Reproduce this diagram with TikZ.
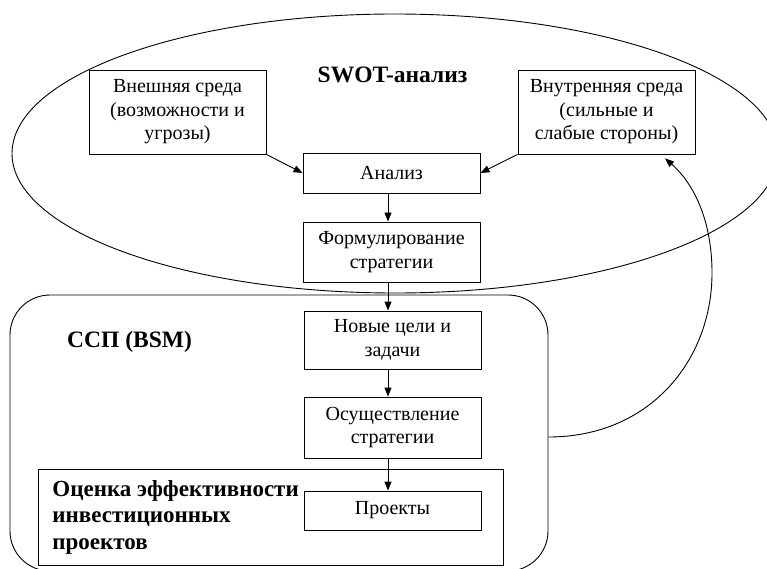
\documentclass[tikz,border=0pt]{standalone}
\usepackage{fontspec}
\setmainfont{Liberation Serif}
\usetikzlibrary{arrows.meta}
\begin{document}
\begin{tikzpicture}[x=1pt,y=-1pt,
  line width=0.9pt,
  box/.style={draw, line width=0.9pt, minimum width=177pt, align=center, inner sep=0pt,
              font=\fontsize{20}{23.5}\selectfont},
  arr/.style={-{Triangle[length=9pt,width=7pt]}, line width=0.9pt},
  ttl/.style={inner sep=0pt, align=left, font=\fontsize{23.5}{26.5}\selectfont\bfseries}]
\useasboundingbox (0,0) rectangle (767,569);
\clip (0,0) rectangle (767,569);
% SWOT ellipse
\draw (395,153.5) ellipse [x radius=383, y radius=139.5];
% BSM rounded frame
\node[draw, rounded corners=40pt, minimum width=538pt, minimum height=276pt, inner sep=0pt] (bsm) at (279,433) {};
% evaluation frame
\node[draw, minimum width=465pt, minimum height=96pt, inner sep=0pt] (eval) at (270.5,517) {};
% titles
\node[ttl] (swot) at (392.5,75) {SWOT-анализ};
\node[ttl] (ssp) at (129.5,342) {ССП (BSM)};
\node[ttl, anchor=west, font=\fontsize{23}{26.5}\selectfont\bfseries] (evtxt) at (52,517) {Оценка эффективности\\инвестиционных\\проектов};
% boxes
\node[box, minimum height=84pt] (ext) at (177.5,112) {Внешняя среда\\(возможности и\\угрозы)};
\node[box, minimum height=84pt] (int) at (606.5,112) {Внутренняя среда\\(сильные и\\слабые стороны)};
\node[box, minimum height=40pt] (anal) at (391.5,173) {Анализ};
\node[box, minimum height=60pt] (form) at (391.5,252) {Формулирование\\стратегии};
\node[box, minimum height=58pt] (goals) at (392.5,340) {Новые цели и\\задачи};
\node[box, minimum height=61pt] (impl) at (392.5,427.5) {Осуществление\\стратегии};
\node[box, minimum height=39pt] (proj) at (392.5,510.5) {Проекты};
% connectors
\draw[arr] (ext.south east) -- (anal.west);
\draw[arr] (int.south west) -- (anal.east);
\draw[arr] ([xshift=-3.5pt]anal.south) -- ([xshift=-3.5pt]form.north);
\draw[arr] ([xshift=-3.5pt]form.south) -- ([xshift=-4.5pt]goals.north);
\draw[arr] ([xshift=-4.5pt]goals.south) -- ([xshift=-4.5pt]impl.north);
\draw[arr] ([xshift=-4.5pt]impl.south) -- ([xshift=-4.5pt]proj.north);
\coordinate (cstart) at ([yshift=-4pt]bsm.east);
\coordinate (cend) at ([xshift=58.5pt,yshift=-4pt]int.south);
\draw[arr] (cstart) .. controls (650,437) and (712,360) .. (712,273)
  .. controls (712,215) and (690,180) .. (cend);
\end{tikzpicture}
\end{document}
